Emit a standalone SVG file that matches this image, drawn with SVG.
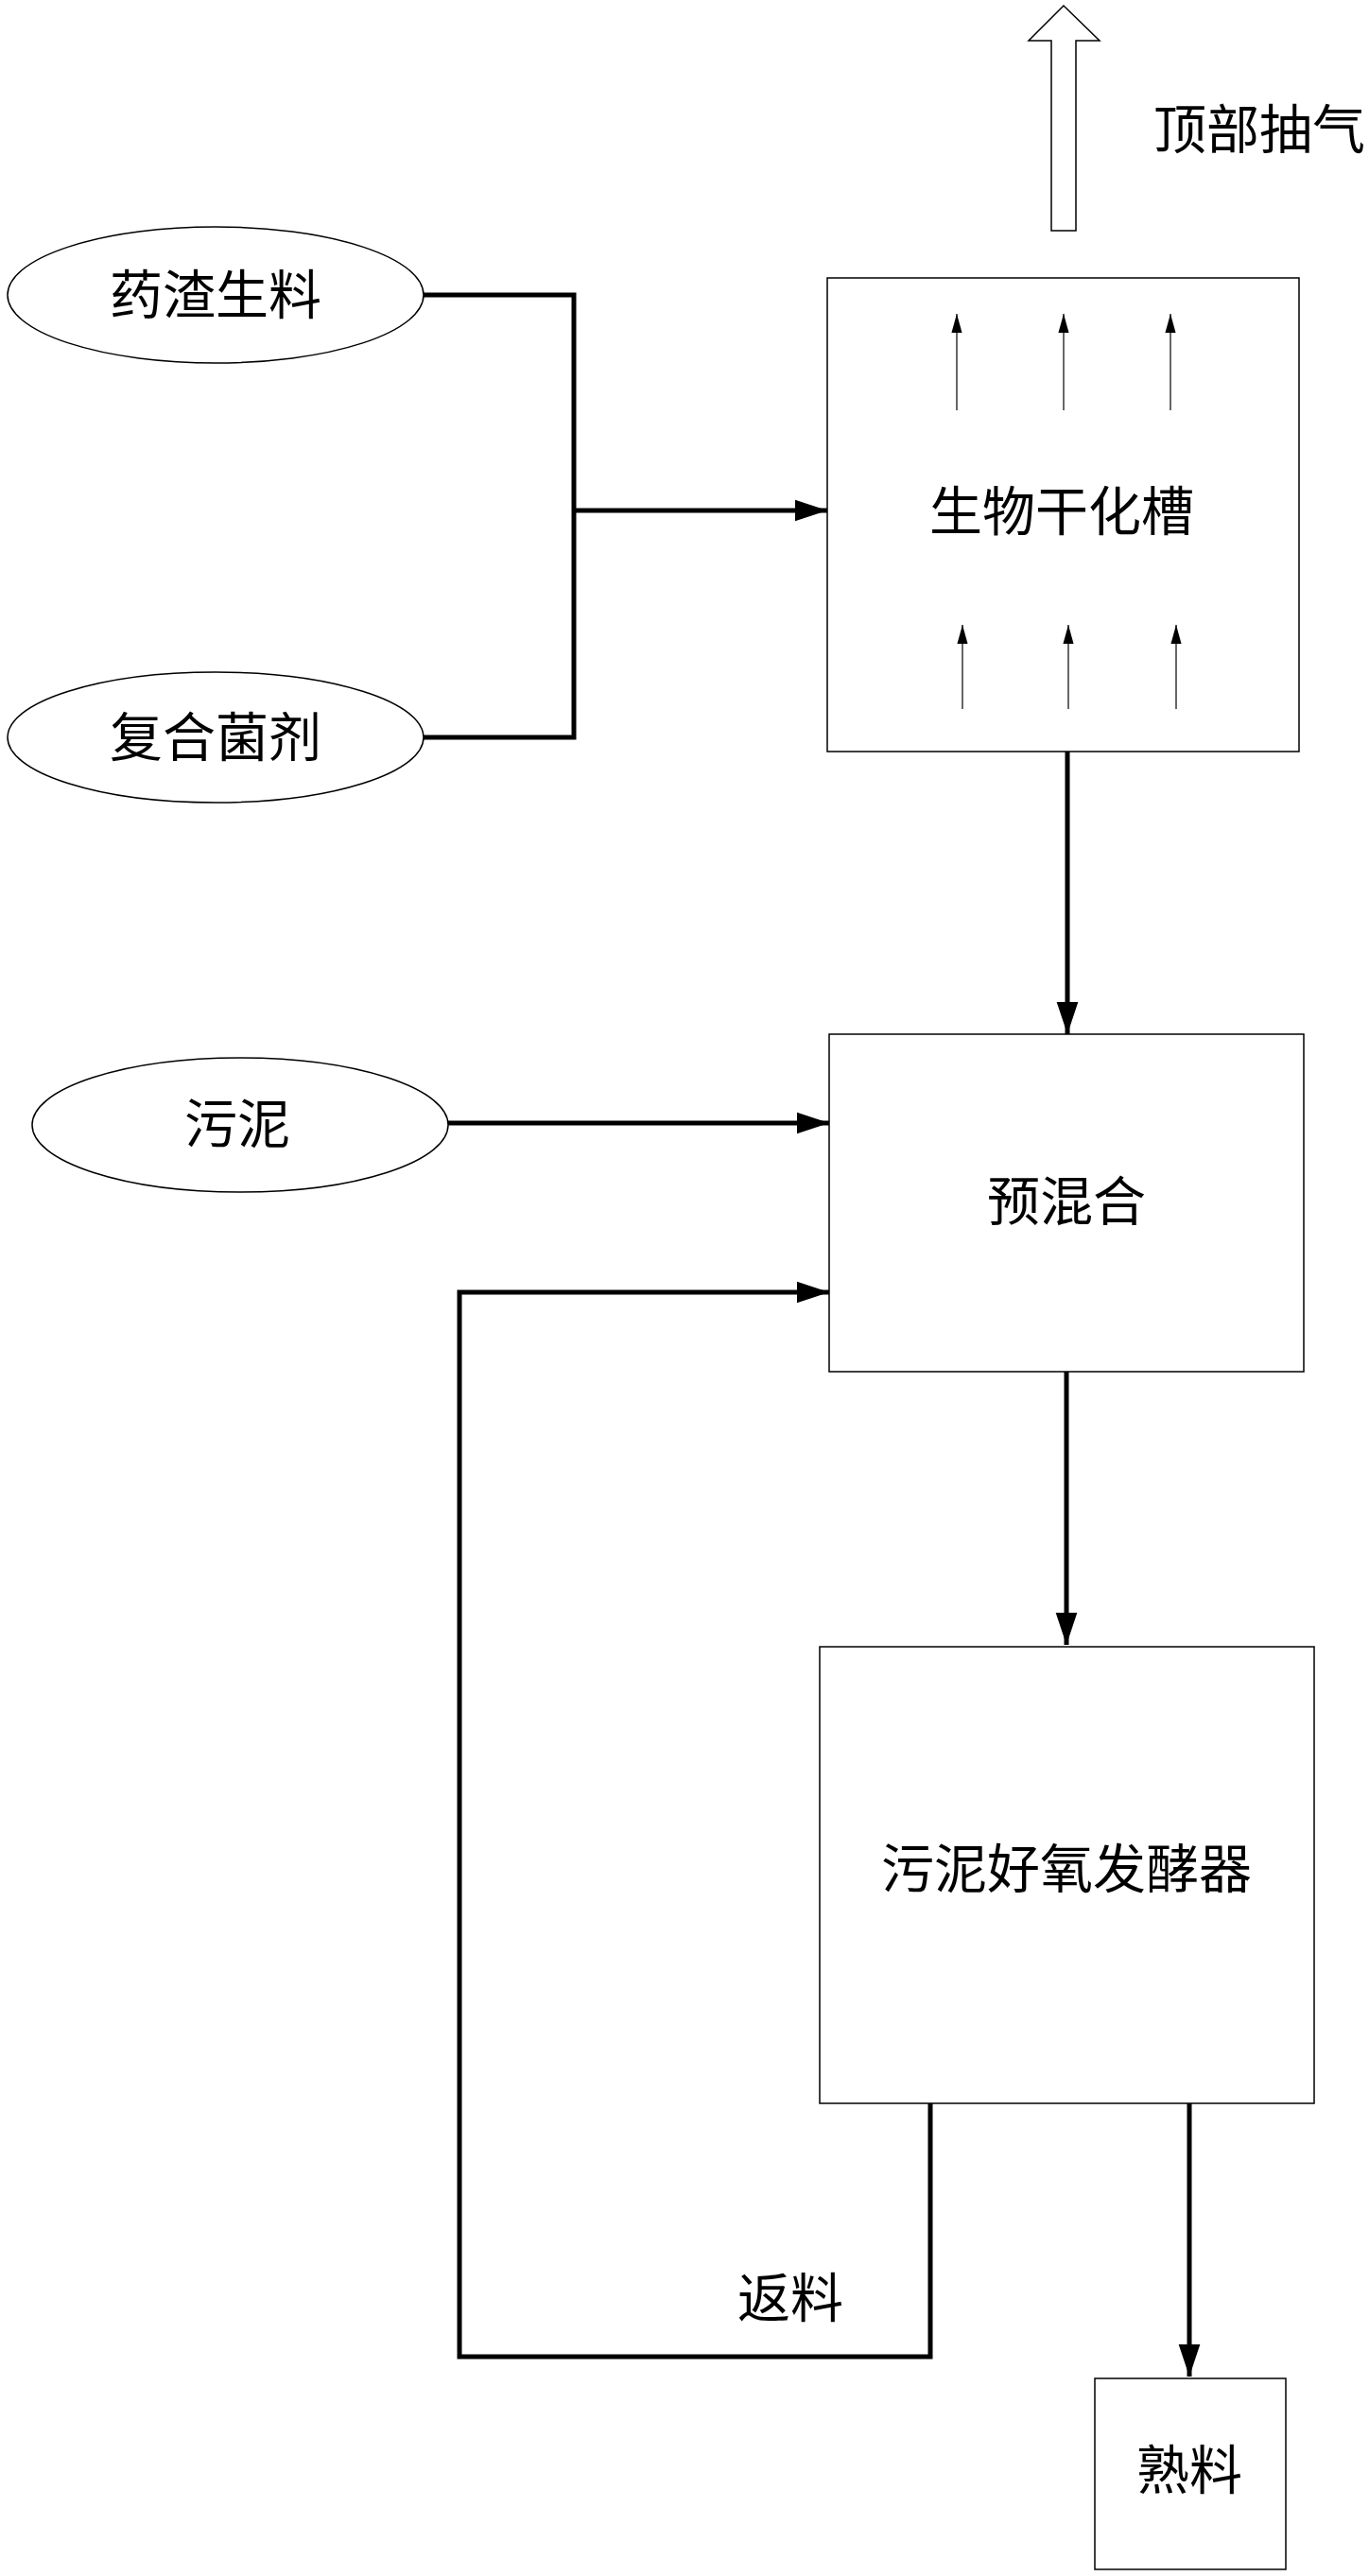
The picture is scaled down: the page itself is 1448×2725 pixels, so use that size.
<svg xmlns="http://www.w3.org/2000/svg" width="1448" height="2725" viewBox="0 0 1448 2725">
<style>
.n{fill:#fff;stroke:#000;stroke-width:1.5}
.t{font-family:"Liberation Serif","Noto Sans CJK SC",serif;font-size:56px;text-anchor:middle;dominant-baseline:central;fill:#000}
.c{fill:none;stroke:#000;stroke-width:5}
.s{stroke:#000;stroke-width:1.2}
</style>
<defs>
<marker id="a" markerUnits="userSpaceOnUse" markerWidth="34" markerHeight="34" refX="48" refY="16" viewBox="0 0 48 32" orient="auto"><path d="M0,0L48,16L0,32Z" fill="#000"/></marker>
<marker id="b" markerUnits="userSpaceOnUse" markerWidth="20" markerHeight="36" refX="36" refY="10" viewBox="0 0 36 20" orient="auto"><path d="M0,0L36,10L0,20Z" fill="#000"/></marker>
</defs>
<g id="exhaust">
<path d="M1112,244V43H1088L1125,6L1163,43H1138V244Z" fill="#fff" stroke="#000" stroke-width="1.5"/>
<text class="t" x="1332" y="138">顶部抽气</text>
</g>
<g id="n1"><ellipse class="n" cx="228" cy="312" rx="220" ry="72"/><text class="t" x="228" y="313">药渣生料</text></g>
<g id="n2"><ellipse class="n" cx="228" cy="780" rx="220" ry="69"/><text class="t" x="228" y="781">复合菌剂</text></g>
<g id="n3"><ellipse class="n" cx="254" cy="1190" rx="220" ry="71"/><text class="t" x="251" y="1190">污泥</text></g>
<g id="n4"><rect class="n" x="875" y="294" width="499" height="501"/><text class="t" x="1123" y="542">生物干化槽</text>
<g class="s">
<line x1="1012" y1="434" x2="1012" y2="332" marker-end="url(#b)"/>
<line x1="1125" y1="434" x2="1125" y2="332" marker-end="url(#b)"/>
<line x1="1238" y1="434" x2="1238" y2="332" marker-end="url(#b)"/>
<line x1="1018" y1="750" x2="1018" y2="661" marker-end="url(#b)"/>
<line x1="1130" y1="750" x2="1130" y2="661" marker-end="url(#b)"/>
<line x1="1244" y1="750" x2="1244" y2="661" marker-end="url(#b)"/>
</g></g>
<g id="n5"><rect class="n" x="877" y="1094" width="502" height="357"/><text class="t" x="1128" y="1272">预混合</text></g>
<g id="n6"><rect class="n" x="867" y="1742" width="523" height="483"/><text class="t" x="1128" y="1978">污泥好氧发酵器</text></g>
<g id="n7"><rect class="n" x="1158" y="2516" width="202" height="202"/><text class="t" x="1258" y="2614">熟料</text></g>
<g id="connectors">
<path class="c" d="M448,312H607V780H448"/>
<path class="c" d="M607,540H875" marker-end="url(#a)"/>
<path class="c" d="M1129,795V1094" marker-end="url(#a)"/>
<path class="c" d="M474,1188H877" marker-end="url(#a)"/>
<path class="c" d="M984,2225V2493H486V1367H877" marker-end="url(#a)"/>
<path class="c" d="M1128,1451V1740" marker-end="url(#a)"/>
<path class="c" d="M1258,2225V2514" marker-end="url(#a)"/>
<text class="t" x="836" y="2432">返料</text>
</g>
</svg>
